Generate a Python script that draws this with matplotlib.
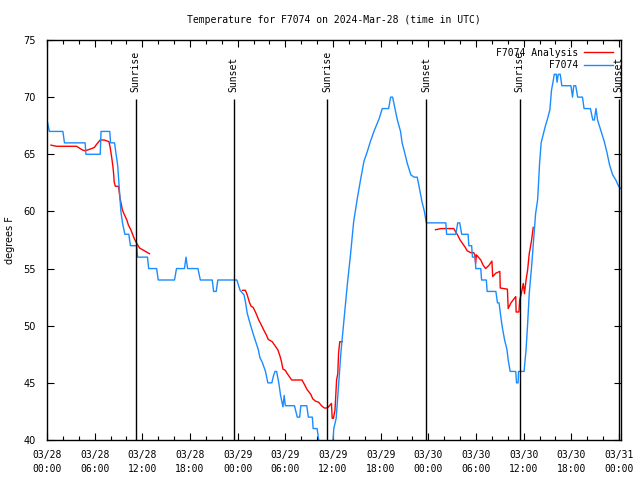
import numpy as np
import pandas as pd
import matplotlib
matplotlib.use("Agg")
import matplotlib.pyplot as plt
import matplotlib.dates as mdates

START = pd.Timestamp("2024-03-28 00:00")
MONO = "DejaVu Sans Mono"

# F7074 observations (hours after 03/28 00:00 UTC, deg F)
obs_hours = [0.0, 0.3, 2.0, 2.2, 4.8, 4.9, 6.7, 6.8, 7.9, 8.0, 8.5, 8.7, 8.9, 9.1, 9.3, 9.5, 9.8, 10.3,
             10.5, 11.3, 11.4, 12.65, 12.8, 13.8, 14.0, 16.05, 16.3, 17.3, 17.5, 17.7, 19.0, 19.3, 20.8,
             20.97, 21.3, 21.5, 23.9, 24.3, 24.8, 25.0, 25.2, 25.6, 25.9, 26.2, 26.6, 26.8, 27.07, 27.5,
             27.8, 28.3, 28.5, 28.7, 28.9, 29.2, 29.4, 29.7, 29.85, 30.0, 31.15, 31.5, 31.8, 31.95, 32.7,
             32.9, 33.4, 33.5, 34.0, 34.2, 35.0, 36.0, 36.1, 36.4, 36.7, 37.0, 37.4, 37.8, 38.2, 38.6,
             39.05, 39.5, 39.9, 40.3, 40.7, 41.15, 41.8, 42.2, 43.0, 43.25, 43.5, 43.8, 44.1, 44.5, 44.7,
             45.0, 45.35, 45.8, 46.2, 46.6, 46.8, 47.2, 47.5, 47.75, 50.2, 50.3, 51.45, 51.7, 51.95, 52.2,
             53.0, 53.1, 53.45, 53.55, 53.9, 53.97, 54.6, 54.7, 55.3, 55.4, 56.5, 56.7, 56.9, 57.1, 57.3,
             57.6, 57.9, 58.05, 58.3, 59.0, 59.1, 59.3, 59.35, 60.05, 60.3, 60.5, 60.7, 61.0, 61.25, 61.5,
             61.75, 61.85, 62.0, 62.2, 62.7, 63.0, 63.3, 63.5, 63.7, 63.85, 64.1, 64.2, 64.35, 64.6, 64.8,
             65.95, 66.15, 66.3, 66.55, 66.8, 67.4, 67.6, 68.4, 68.7, 68.9, 69.1, 69.3, 69.7, 70.15, 70.5,
             70.8, 71.2, 71.6, 71.95, 72.2]
obs_temps = [68, 67, 67, 66, 66, 65, 65, 67, 67, 66, 66, 65, 64, 62, 60, 59, 58, 58,
             57, 57, 56, 56, 55, 55, 54, 54, 55, 55, 56, 55, 55, 54, 54,
             53, 53, 54, 54, 53.1, 52.7, 52.0, 51.1, 50.1, 49.4, 48.75, 47.9, 47.2, 46.85, 46.0,
             45.0, 45.0, 45.6, 46.0, 46.0, 44.9, 43.9, 42.9, 43.9, 43, 43, 42, 42, 43, 43,
             42, 42, 41, 41, 40, 39, 40, 41, 41.9, 44.8, 47.7, 50.6, 53.6, 56.2, 59.1,
             61.1, 62.9, 64.4, 65.2, 66.1, 67.0, 68.1, 69.0, 69, 70, 70, 69, 68, 67, 66,
             65.2, 64.2, 63.2, 63, 63, 62.3, 60.85, 60, 59, 59, 58, 58, 59, 59, 58,
             58, 57, 57, 56, 56, 55, 55, 54, 54, 53, 53, 52, 52, 50.9, 49.9,
             48.75, 47.9, 47, 46, 46, 45, 45, 46, 46, 47.9, 50.2, 52.8, 55.2, 57.5, 59.8,
             61, 62.2, 64.2, 66.0, 67.4, 68.1, 68.9, 70.6, 71.35, 72, 72, 71.3, 72, 72, 71,
             71, 70, 71, 71, 70, 70, 69, 69, 68, 68, 69, 68, 67.1, 66.1, 65.1,
             64.1, 63.2, 62.75, 62.2, 62.0]

# F7074 Analysis, three separate runs
ana1_hours = [0.5, 1.2, 3.7, 3.95, 4.4, 4.8, 5.2, 5.6, 5.97, 6.27, 6.7, 7.2, 7.8, 7.95, 8.15, 8.3, 8.4,
              8.45, 8.6, 9.0, 9.2, 9.33, 9.5, 9.75, 10.05, 10.25, 10.55, 10.8, 11.0, 11.3, 11.65, 12.15, 12.9]
ana1_temps = [65.8, 65.7, 65.7, 65.6, 65.4, 65.3, 65.4, 65.5, 65.6, 65.9, 66.25, 66.25, 66.1, 65.6, 64.7,
              63.9, 63.2, 62.6, 62.2, 62.2, 61.1, 60.7, 60.1, 59.7, 59.25, 58.8, 58.4, 57.95, 57.6, 57.2,
              56.8, 56.6, 56.3]
ana2_hours = [24.6, 24.97, 25.2, 25.5, 25.7, 25.95, 26.3, 26.65, 26.95, 27.3, 27.6, 27.85, 28.35, 28.75,
              29.05, 29.3, 29.5, 29.7, 30.0, 30.2, 30.5, 30.8, 32.1, 32.45, 32.75, 33.2, 33.45, 33.8,
              34.2, 34.55, 34.9, 35.3, 35.8, 35.9, 36.05, 36.25, 36.45, 36.6, 36.7, 36.85, 37.15]
ana2_temps = [53.1, 53.1, 52.7, 52.0, 51.7, 51.6, 51.1, 50.5, 50.1, 49.6, 49.2, 48.8, 48.6, 48.2,
              47.9, 47.4, 46.9, 46.2, 46.1, 45.85, 45.55, 45.25, 45.25, 44.8, 44.4, 44.0, 43.6, 43.4,
              43.3, 43.0, 42.8, 42.8, 43.2, 41.9, 41.9, 42.6, 45.25, 45.8, 47.6, 48.6, 48.6]
ana3_hours = [48.9, 49.6, 51.2, 51.45, 51.75, 52.0, 52.3, 52.6, 52.9, 53.3, 53.7, 53.85, 53.95, 54.05,
              54.6, 54.9, 55.2, 55.65, 56.0, 56.1, 56.5, 57.0, 57.05, 57.95, 58.05, 58.4, 59.0, 59.05,
              59.4, 59.5, 59.7, 59.95, 60.1, 60.3, 60.5, 60.7, 61.0, 61.2]
ana3_temps = [58.4, 58.5, 58.5, 58.2, 57.85, 57.5, 57.2, 56.9, 56.55, 56.4, 56.4, 56.2, 55.45, 56.2,
              55.75, 55.3, 55.0, 55.3, 55.65, 54.3, 54.6, 54.75, 53.3, 53.2, 51.5, 52.0, 52.55, 51.2,
              51.2, 52.25, 52.8, 53.7, 52.8, 54.0, 54.9, 56.3, 57.5, 58.6]

sun_events = ["Sunrise", "Sunset", "Sunrise", "Sunset", "Sunrise", "Sunset"]
sun_times = ["2024-03-28 11:10", "2024-03-28 23:30", "2024-03-29 11:15",
             "2024-03-29 23:45", "2024-03-30 11:30", "2024-03-30 23:58"]


def to_time(hours):
    return START + pd.to_timedelta(np.array(hours), unit="h")


fig = plt.figure(figsize=(6.4, 4.8), dpi=100)
ax = fig.add_axes([47 / 640, 40 / 480, 574 / 640, 400 / 480])

blue = "#1a8cff"
red = "#ff0000"

ax.plot(to_time(ana1_hours), ana1_temps, color=red, lw=1.0, label="F7074 Analysis")
ax.plot(to_time(ana2_hours), ana2_temps, color=red, lw=1.0)
ax.plot(to_time(ana3_hours), ana3_temps, color=red, lw=1.0)
ax.plot(to_time(obs_hours), obs_temps, color=blue, lw=1.0, label="         F7074")

for name, t in zip(sun_events, sun_times):
    t = pd.Timestamp(t)
    ax.vlines(t, 40, 69.8, color="black", lw=1.0)
    ax.text(t, 70.45, name, rotation=90, ha="center", va="bottom",
            family=MONO, fontsize=7)

ax.set_ylim(40, 75)
ax.set_xlim(START, START + pd.Timedelta(hours=72.25))
ax.set_yticks(np.arange(40, 76, 5))
ax.xaxis.set_major_locator(mdates.HourLocator(byhour=[0, 6, 12, 18]))
ax.xaxis.set_minor_locator(mdates.HourLocator(byhour=range(0, 24, 2)))
ax.xaxis.set_major_formatter(mdates.DateFormatter("%m/%d\n%H:%M"))
ax.tick_params(which="both", direction="in", top=True, right=True)
ax.tick_params(which="major", length=5, width=0.8)
ax.tick_params(which="minor", length=3, width=0.8)
ax.tick_params(axis="x", labelsize=7, pad=7)
ax.tick_params(axis="y", labelsize=7, pad=8)
for lab in ax.get_xticklabels():
    lab.set_family(MONO)
    lab.set_linespacing(1.5)
for sp in ax.spines.values():
    sp.set_linewidth(1.0)

ax.set_ylabel("degrees F", fontsize=7)
ax.yaxis.set_label_coords(-0.055, 0.5)
ax.set_title("Temperature for F7074 on 2024-Mar-28 (time in UTC)",
             family=MONO, fontsize=7, pad=12)

ax.legend(loc="upper right", frameon=False, markerfirst=False,
          prop={"family": MONO, "size": 7}, handlelength=3.0,
          borderaxespad=0.4, labelspacing=0.25, handletextpad=0.6)

fig.savefig("out.png", dpi=100)
